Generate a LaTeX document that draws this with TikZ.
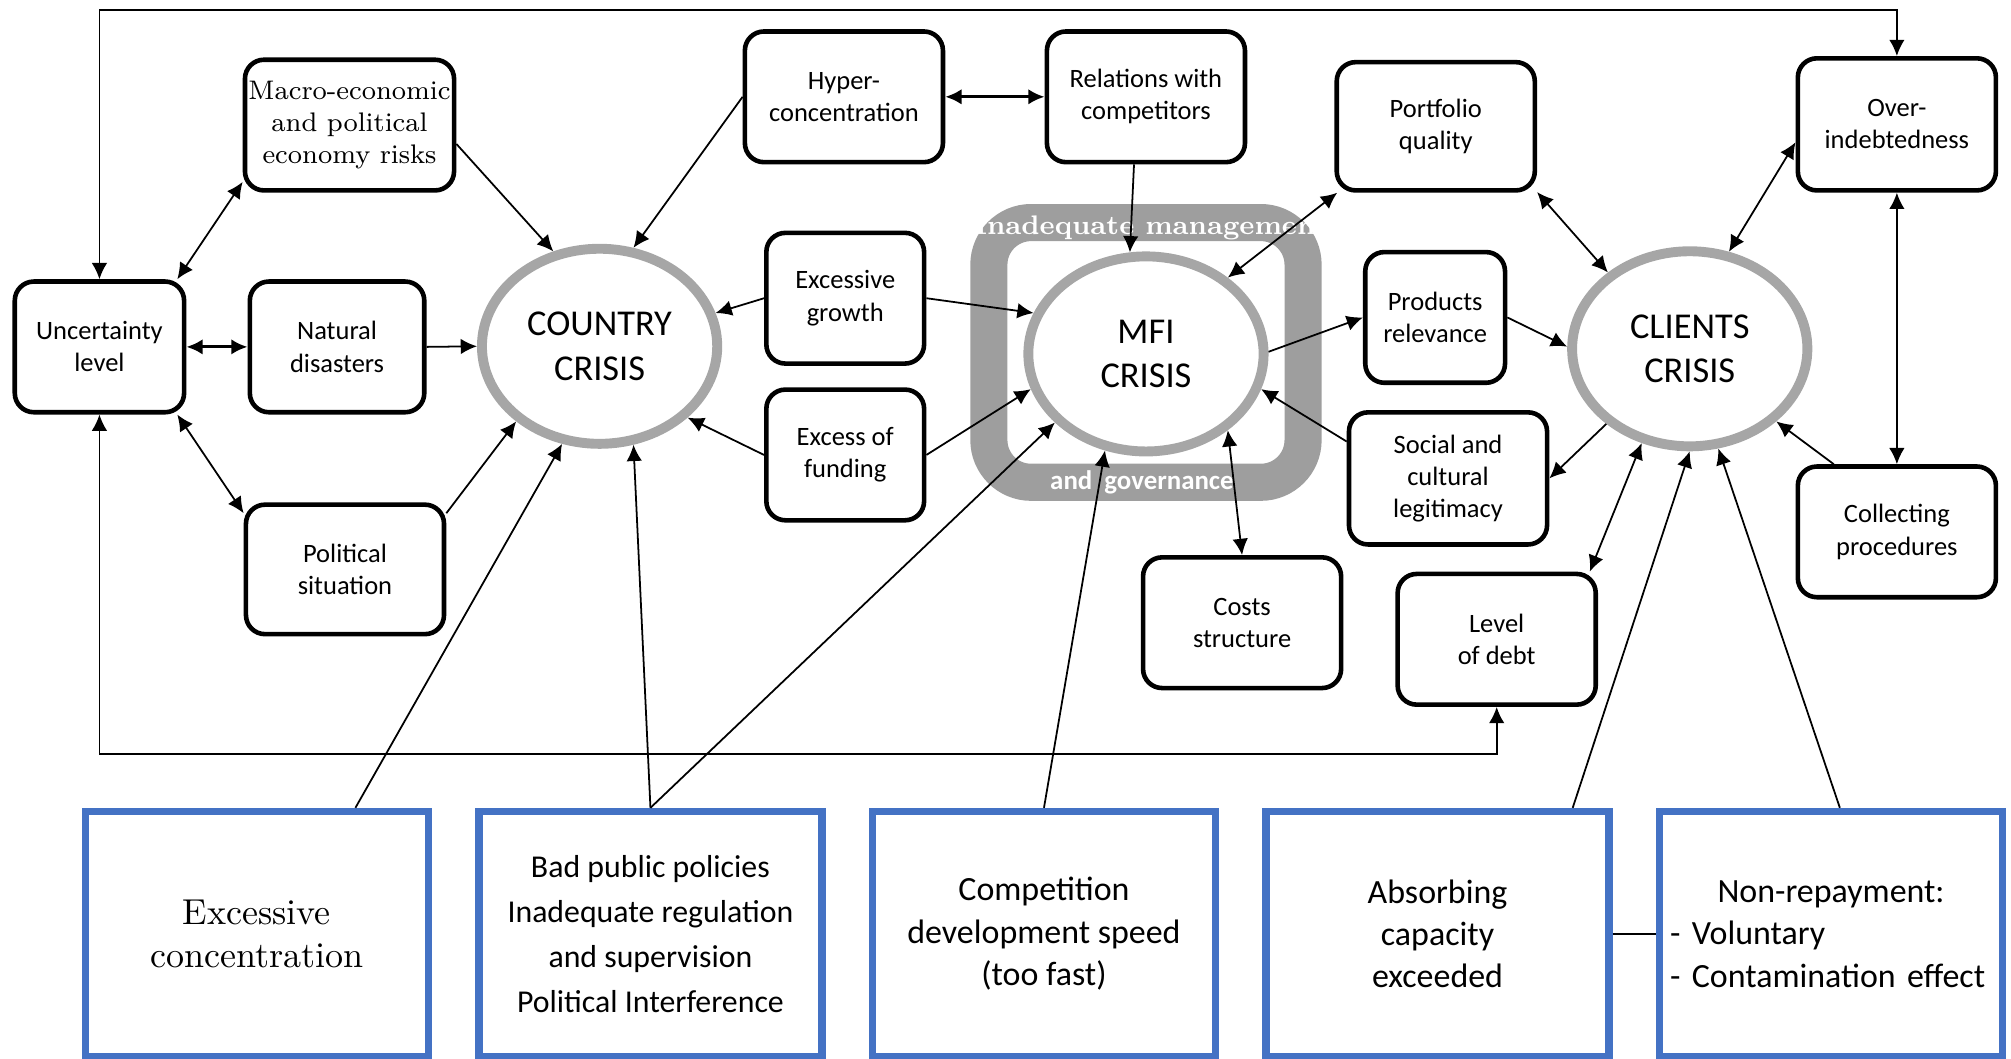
\documentclass[tikz,border=0pt]{standalone}
\usepackage{fontspec}
\usepackage{xcolor}
\usepackage{tikz}
\usetikzlibrary{shapes,positioning,arrows.meta}
\newfontfamily\carlito{Carlito}
\definecolor{crisisgray}{RGB}{166,166,166}
\definecolor{framegray}{RGB}{158,158,158}
\definecolor{causeblue}{RGB}{68,114,196}

\begin{document}
\begin{tikzpicture}[
		>={Latex[length=4.6pt,width=4.4pt]},
		factor/.style={draw, line width=1.3pt, rounded corners=0.19cm, fill=white, align=center, inner sep=1pt, minimum width=1.97cm, minimum height=1.3cm, font=\carlito\fontsize{7.5}{9.1}\selectfont},
		crisis/.style={draw=crisisgray, line width=2.8pt, ellipse, fill=white, inner sep=0pt, minimum width=2.34cm, minimum height=1.94cm, align=center, font=\carlito\fontsize{10.3}{12.7}\selectfont},
		cause/.style={draw=causeblue, line width=2.1pt, minimum width=3.41cm, minimum height=2.434cm, align=center, font=\carlito\fontsize{9.6}{12}\selectfont},
		link/.style={line width=0.5pt, every edge/.append style={->}}
	]
				\useasboundingbox (0,0) rectangle (20,10.523);

				% management and governance frame
				\node[draw=framegray, line width=10.5pt, rounded corners=0.42cm, outer sep=0pt, minimum width=3.125cm, minimum height=2.583cm] (mgmt) at (11.397,7.018) {};
				\node[text=white, font=\bfseries\fontsize{7.6}{9}\selectfont] (mgmttop) at ([xshift=0.05cm,yshift=-0.05cm]mgmt.north) {Inadequate management};
				\node[text=white, font=\carlito\bfseries\fontsize{7.6}{9}\selectfont] (mgmtbot) at ([xshift=-0.04cm]mgmt.south) {and\ \ governance};

				\node[factor, minimum width=1.684cm] (unc) at (0.989,7.073) 										{Uncertainty\\level};
				\node[factor, minimum width=1.735cm, right=0.608cm of unc] (natural) 								{Natural\\disasters};
				\node[factor, minimum width=2.066cm, font=\fontsize{7.6}{9.1}\selectfont] (macro) at (3.476,9.279) 	{Macro-economic\\and political\\economy risks};
				\node[factor, minimum height=1.288cm] (political) at (3.431,4.860) 								{Political\\situation};
				\node[crisis] (country) at (5.963,7.079) 															{COUNTRY\\CRISIS};
				\node[factor] (hyper) at (8.393,9.560) 																{Hyper-\\concentration};
				\node[factor, right=0.988cm of hyper] (relations) 													{Relations with\\competitors};
				\node[factor, minimum width=1.569cm] (growth) at (8.406,7.557) 									{Excessive\\growth};
				\node[factor, minimum width=1.569cm, below=0.213cm of growth] (funding) 							{Excess of\\funding};
				\node[crisis] (mfi) at (11.397,7.003) 																{MFI\\CRISIS};
				\node[factor, minimum height=1.276cm] (portfolio) at (14.279,9.267) 								{Portfolio\\quality};
				\node[factor, minimum width=1.39cm] (products) at (14.273,7.366) 									{Products\\relevance};
				\node[factor, minimum height=1.314cm] (social) at (14.401,5.765) 									{Social and\\cultural\\legitimacy};
				\node[factor] (costs) at (12.353,4.330) 															{Costs\\structure};
				\node[factor] (debt) at (14.885,4.165) 																{Level\\of debt};
				\node[crisis] (clients) at (16.805,7.054) 															{CLIENTS\\CRISIS};
				\node[factor, minimum height=1.314cm] (over) at (18.865,9.286) 									{Over-\\indebtedness};
				\node[factor, below=2.70cm of over] (collecting) 													{Collecting\\procedures};

				% external causes
				\node[cause, font=\fontsize{10.2}{12}\selectfont] (conc) at (2.555,1.235) 							{Excessive\\concentration};
				\node[cause, font=\carlito\fontsize{9}{12.7}\selectfont, right=0.43cm of conc] (policy) 			{Bad public policies\\Inadequate regulation\\and supervision\\Political Interference};
				\node[cause, right=0.43cm of policy] (speed) 														{Competition\\development speed\\(too fast)};
				\node[cause, right=0.43cm of speed] (absorb) 														{Absorbing\\capacity\\exceeded};
				\node[cause, right=0.43cm of absorb, text width=3.2cm, inner sep=0.105cm, align=left] (repay) 		{\centering Non-repayment:\par\raggedright - Voluntary\\- Contamination effect};

				\coordinate (topline) at (0,10.421);
				\coordinate (botline) at (0,3.023);

				\draw[link]
					(unc.41) edge[<->] (macro.208)
					(unc.east) edge[<->, line width=0.9pt] (natural.west)
					(unc.-41) edge[<->] (political.151)
					(macro.-10) edge (country.116)
					(natural.east) edge (country.west)
					(political.29) edge (country.222)
					(hyper.west) edge (country.71)
					(hyper.east) edge[<->, line width=0.9pt] (relations.west)
					(relations.260) edge (mfi.99)
					(growth.west) edge (country.16)
					(growth.east) edge (mfi.160)
					(funding.west) edge (country.-39)
					(funding.east) edge (mfi.197)
					(mfi.43) edge[<->] (portfolio.214)
					(mfi.1) edge (products.west)
					(social.160) edge (mfi.-17)
					(mfi.-43) edge[<->] (costs.north)
					(portfolio.-33) edge[<->] (clients.137)
					(products.east) edge (clients.179)
					(clients.222) edge (social.east)
					(clients.243) edge[<->] (debt.36)
					(collecting.133) edge (clients.-40)
					(clients.68) edge[<->] (over.190)
					(over.south) edge[<->] (collecting.north);

				\draw[link]
					(conc.52) edge (country.249)
					(policy.north) edge (country.-71)
					(policy.north) edge (mfi.217)
					(speed.north) edge (mfi.247)
					(absorb.43) edge (clients.270)
					(repay.86) edge (clients.-74);

				\draw[<->, link] (unc.north) -- (unc.north |- topline) -| (over.north);
				\draw[<->, link] (unc.south) -- (unc.south |- botline) -| (debt.south);
				\draw[line width=0.6pt] (absorb) -- (repay);

			\end{tikzpicture}
\end{document}
